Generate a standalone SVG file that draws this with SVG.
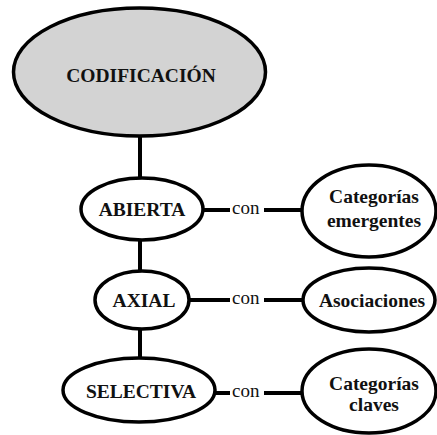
<svg xmlns="http://www.w3.org/2000/svg" width="437" height="435" viewBox="0 0 437 435">
<style>
.n{fill:#fff;stroke:#000;stroke-width:3.5}
.t{font-weight:bold;font-size:19.5px;fill:#111;text-anchor:middle}
.c{font-size:19px;fill:#111}
.l{stroke:#000;stroke-width:4;fill:none}
</style>
<rect width="437" height="435" fill="#fff"/>
<g id="connectors">
<line class="l" x1="140" y1="136" x2="140" y2="179"/>
<line class="l" x1="140" y1="240" x2="140" y2="272"/>
<line class="l" x1="140" y1="329" x2="140" y2="359"/>
<line class="l" x1="203" y1="210" x2="230" y2="210"/>
<line class="l" x1="264" y1="210" x2="302" y2="210"/>
<line class="l" x1="189" y1="300" x2="230" y2="300"/>
<line class="l" x1="264" y1="300" x2="303" y2="300"/>
<line class="l" x1="215" y1="393" x2="230" y2="393"/>
<line class="l" x1="264" y1="393" x2="302" y2="393"/>
<g font-family="Liberation Serif, serif">
<text class="c" x="232" y="214">con</text>
<text class="c" x="232" y="304">con</text>
<text class="c" x="232" y="397">con</text>
</g>
</g>
<g font-family="Liberation Serif, serif">
<g id="codificacion">
<ellipse class="n" cx="139.5" cy="72" rx="126" ry="64" style="fill:#d3d3d3"/>
<text class="t" x="141" y="82">CODIFICACIÓN</text>
</g>
<g id="abierta">
<ellipse class="n" cx="142" cy="209" rx="61" ry="31"/>
<text class="t" x="142" y="216">ABIERTA</text>
</g>
<g id="axial">
<ellipse class="n" cx="142" cy="300" rx="47" ry="29"/>
<text class="t" x="144" y="307">AXIAL</text>
</g>
<g id="selectiva">
<ellipse class="n" cx="139" cy="390" rx="76" ry="32"/>
<text class="t" x="141" y="398">SELECTIVA</text>
</g>
<g id="emergentes">
<ellipse class="n" cx="369" cy="211" rx="67" ry="46"/>
<text class="t" x="374" y="203">Categorías</text>
<text class="t" x="374" y="227">emergentes</text>
</g>
<g id="asociaciones">
<ellipse class="n" cx="369" cy="300" rx="66" ry="32"/>
<text class="t" x="372" y="307">Asociaciones</text>
</g>
<g id="claves">
<ellipse class="n" cx="369" cy="391" rx="67" ry="42"/>
<text class="t" x="374" y="390">Categorías</text>
<text class="t" x="374" y="411">claves</text>
</g>
</g>
</svg>
